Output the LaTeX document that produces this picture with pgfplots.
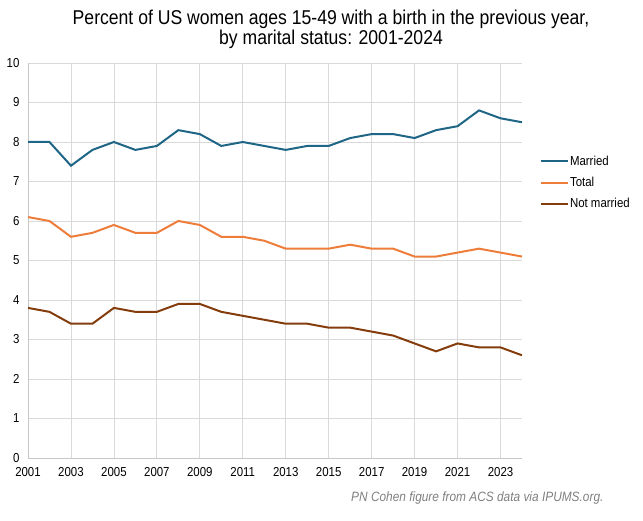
\documentclass[border=0pt]{standalone}
\usepackage{fontspec}
\setmainfont{Liberation Sans}[FakeStretch=0.88]
\usepackage{pgfplots}
\pgfplotsset{compat=1.18}
\definecolor{married}{HTML}{1F6585}
\definecolor{total}{HTML}{EE7D3B}
\definecolor{notmarried}{HTML}{843C0C}
\definecolor{gridgray}{HTML}{D9D9D9}
\definecolor{capgray}{HTML}{7F7F7F}

\pgfplotstableread{
year married total notmarried
2001 8.0 6.1 3.8
2002 8.0 6.0 3.7
2003 7.4 5.6 3.4
2004 7.8 5.7 3.4
2005 8.0 5.9 3.8
2006 7.8 5.7 3.7
2007 7.9 5.7 3.7
2008 8.3 6.0 3.9
2009 8.2 5.9 3.9
2010 7.9 5.6 3.7
2011 8.0 5.6 3.6
2012 7.9 5.5 3.5
2013 7.8 5.3 3.4
2014 7.9 5.3 3.4
2015 7.9 5.3 3.3
2016 8.1 5.4 3.3
2017 8.2 5.3 3.2
2018 8.2 5.3 3.1
2019 8.1 5.1 2.9
2020 8.3 5.1 2.7
2021 8.4 5.2 2.9
2022 8.8 5.3 2.8
2023 8.6 5.2 2.8
2024 8.5 5.1 2.6
}\births

\begin{document}
\begin{tikzpicture}
\path[use as bounding box] (0pt,0pt) rectangle (643pt,520pt);
\node[align=center, font=\fontsize{20}{20}\selectfont] at (331pt,491pt) {Percent of US women ages 15-49 with a birth in the previous year,\\by marital status: 2001-2024};
\node[anchor=east, font=\itshape\fontsize{13.5}{15}\selectfont, text=capgray] at (607pt,22pt) {PN Cohen figure from ACS data via IPUMS.org.};
\begin{axis}[
    at={(28pt,62pt)}, anchor=south west,
    scale only axis,
    width=494pt, height=395pt,
    xmin=2001, xmax=2024,
    ymin=0, ymax=10,
    xtick={2001,2003,...,2023},
    ytick={0,1,...,10},
    /pgf/number format/1000 sep={},
    /pgf/number format/assume math mode=true,
    tick label style={font=\fontsize{13}{15}\selectfont, text=black},
    xticklabel style={yshift=-6pt},
    yticklabel style={xshift=-5pt},
    grid=major,
    major grid style={gridgray, line width=0.8pt},
    axis x line*=bottom, axis y line*=left,
    axis line style={draw=gridgray!80!gray, line width=0.8pt, -},
    tick style={draw=none},
    legend style={draw=none, fill=none, at={(1.03,0.776)}, anchor=north west,
        font=\fontsize{13}{15}\selectfont, row sep=6.5pt,
        legend cell align=left,
        nodes={inner xsep=1pt}},
    legend image code/.code={\draw[#1] (0pt,0pt) -- (27pt,0pt);},
]
\addplot[married, line width=2pt] table[x=year, y=married] {\births};
\addplot[total, line width=2pt] table[x=year, y=total] {\births};
\addplot[notmarried, line width=2pt] table[x=year, y=notmarried] {\births};
\legend{Married, Total, Not married}
\end{axis}
\end{tikzpicture}
\end{document}
